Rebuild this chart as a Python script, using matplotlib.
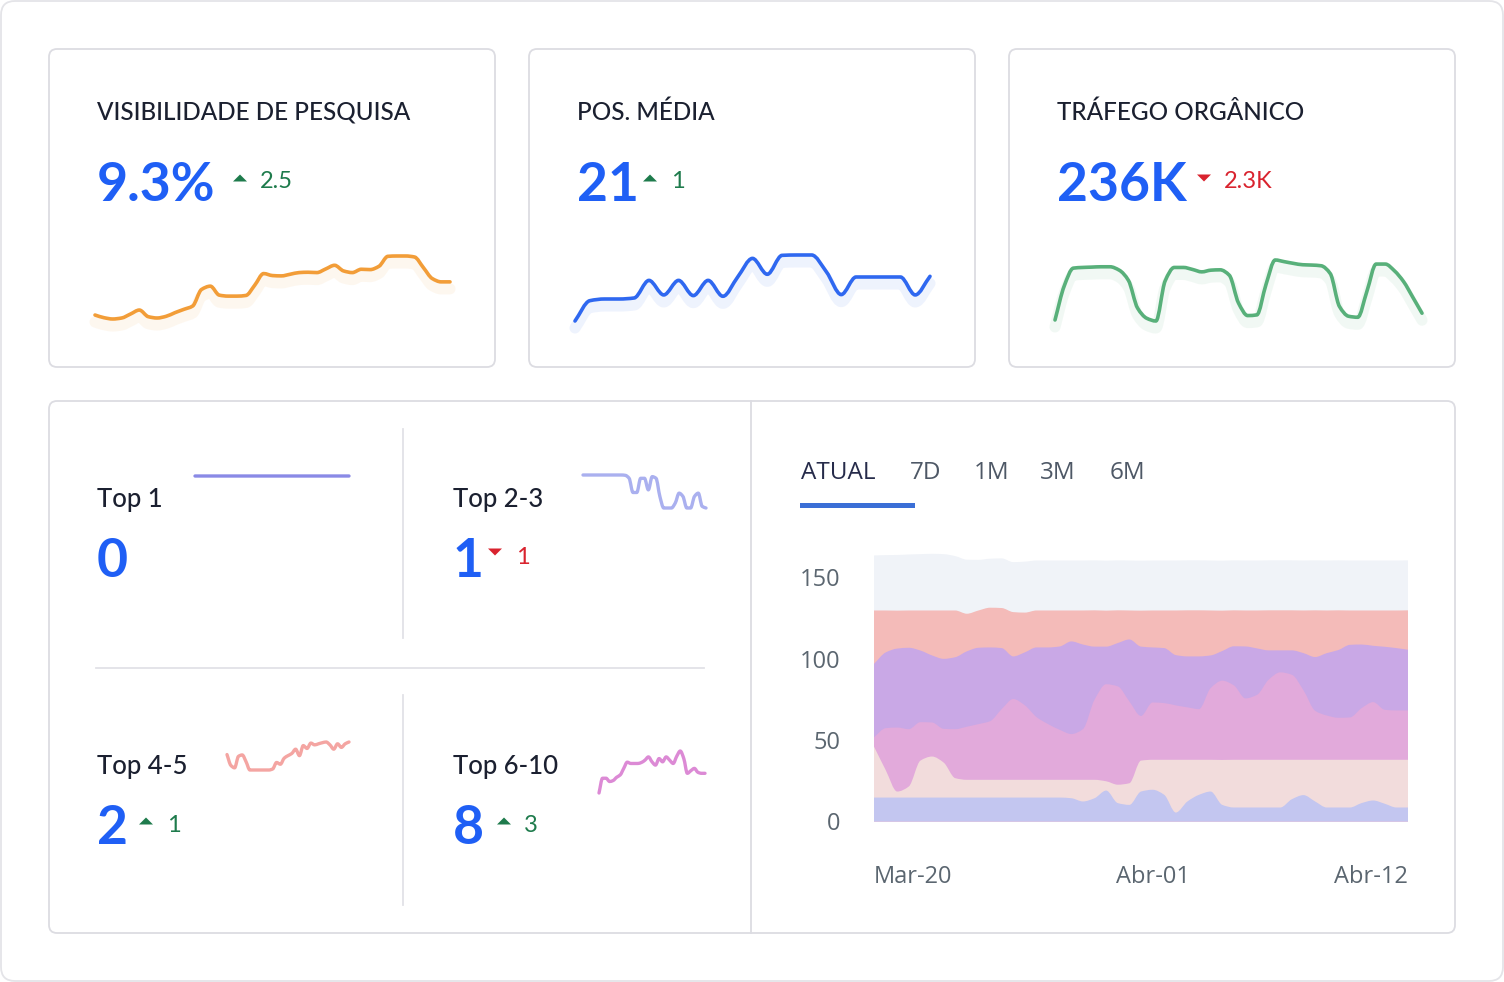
import numpy as np
import matplotlib.pyplot as plt
import matplotlib.transforms as mtransforms
from matplotlib.patches import FancyBboxPatch, Polygon, Rectangle, PathPatch
from matplotlib.path import Path

# ---- data ----
visibilidade = [2.5, 1.7, 1.3, 1.6, 2.8, 4.0, 2.0, 1.6, 2.1, 3.2, 4.2, 5.2, 10.2, 11.2, 8.5, 8.2, 8.2, 8.4, 11.5, 15.0,
                14.4, 14.3, 14.8, 15.3, 15.4, 15.3, 16.4, 17.5, 15.8, 15.3, 16.3, 16.2, 17.2, 20.2, 20.3, 20.3, 20.0,
                16.8, 13.5, 12.5, 12.5]
pos_media = [1.0, 7.0, 7.5, 7.5, 7.8, 13.0, 8.7, 13.0, 8.5, 13.0, 8.3, 14.0, 19.5, 14.8, 20.4, 20.5, 20.5, 15.5, 8.8,
             14.0, 14.0, 14.0, 14.0, 8.7, 14.2]
trafego = [1.5, 11.5, 16.8, 17.0, 17.1, 17.2, 17.2, 16.2, 13.2, 5.0, 2.0, 1.2, 13.0, 17.0, 17.0, 16.4, 15.7, 16.2, 16.3,
           14.7, 6.5, 2.8, 3.0, 12.0, 19.2, 18.7, 18.2, 17.8, 17.7, 17.5, 15.2, 5.5, 2.6, 2.3, 10.0, 18.0, 18.0, 16.0,
           12.8, 8.2, 3.5]

top1 = [0] * 30
top2_3 = [10.5] * 11 + [10.4, 9.5, 5.2, 5.2, 9.5, 9.5, 6.0, 10.0, 9.5, 4.0, 0.5, 0.5, 0.5, 2.0, 5.0, 4.0, 0.5, 0.5,
                         4.0, 5.0, 1.0, 0.5]
top4_5 = [5.5, 2.5, 1.8, 5.0, 5.4, 3.5, 1.2, 1.2, 1.2, 1.2, 1.2, 1.2, 1.5, 3.3, 2.8, 4.5, 5.2, 5.8, 7.0, 5.2, 8.0, 7.2,
          8.7, 8.2, 8.5, 8.8, 9.0, 8.2, 7.0, 8.5, 7.5, 8.5, 9.0]
top6_10 = [1.0, 5.5, 5.5, 4.5, 4.8, 5.8, 6.5, 8.5, 10.4, 10.0, 10.0, 10.0, 10.3, 11.0, 12.0, 10.5, 9.5, 11.5, 10.5, 12.0,
           11.0, 10.0, 12.2, 13.8, 11.5, 7.0, 7.8, 8.5, 7.3, 7.0, 7.0]

# stacked chart, one value every half day from Mar-20 to Abr-12
dias = np.arange(47) * 0.5
camada1 = [14.7] * 17 + [14.3, 12.3, 14.3, 19.0, 11.3, 10.2, 18.4, 19.5, 16.4, 5.5, 12.3, 16.4, 18.4, 10.2,
                         8.6, 8.6, 8.6, 8.6, 8.6, 13.7, 16.2, 12.3, 8.6, 8.6, 8.6, 11.3, 12.9, 10.9, 8.6, 8.6]
camada2 = [31.3, 17.0, 3.7, 6.8, 22.7, 25.2, 21.5, 11.9] + [10.9] * 9 + [11.3, 13.3, 11.3, 5.7, 11.3, 13.3, 19.0,
                                                                       18.4, 21.5, 32.4, 25.6, 21.5, 19.5, 27.6,
                                                                       29.3, 29.3, 29.3, 29.3, 29.3, 24.2, 21.7,
                                                                       25.6, 29.3, 29.3, 29.3, 26.6, 25.0, 27.0,
                                                                       29.3, 29.3]
camada3 = [5.7, 25.6, 39.3, 35.2, 23.6, 20.9, 20.7, 30.1, 32.6, 34.2, 36.0, 43.4, 49.6, 45.7, 38.5, 34.2, 30.7, 28.1,
           31.1, 49.2, 59.6, 60.4, 50.2, 27.4, 35.2, 34.8, 33.4, 32.2, 31.1, 44.0, 48.7, 45.7, 37.7, 39.9, 49.2, 53.7,
           52.2, 42.6, 30.1, 27.2, 25.8, 26.0, 31.7, 35.4, 30.7, 30.3, 30.3]
camada4 = [45.1, 46.5, 48.5, 50.0, 44.0, 41.2, 43.0, 44.2, 46.3, 46.9, 45.3, 37.5, 26.2, 32.6, 42.8, 47.1, 51.2, 56.9,
           52.0, 32.6, 23.1, 26.6, 38.1, 42.6, 33.8, 33.8, 30.9, 31.3, 32.4, 20.1, 18.2, 24.0, 31.9, 28.5, 18.0, 13.5,
           15.0, 22.9, 33.0, 38.3, 41.6, 44.6, 39.1, 34.6, 38.7, 38.3, 37.3]
camada5 = [32.8, 25.8, 23.3, 22.9, 24.6, 27.6, 29.7, 28.7, 23.1, 22.9, 24.4, 24.6, 27.2, 24.4, 22.7, 22.7, 22.1, 19.0,
           20.9, 22.3, 22.1, 20.1, 17.8, 22.1, 22.7, 23.1, 27.4, 28.3, 28.3, 27.6, 24.8, 22.1, 22.1, 23.3, 24.6, 24.6,
           24.6, 26.2, 28.7, 26.2, 24.4, 21.1, 20.9, 21.7, 22.3, 23.1, 24.2]
camada6 = [33.8, 34.0, 34.2, 34.4, 34.6, 34.8, 34.6, 33.4, 33.2, 31.1, 30.1, 30.5, 30.7, 31.3] + [30.7] * 33
cores_camadas = ["#c3c6f0", "#f2dcdc", "#e2aadb", "#c9a8e6", "#f4bbb9", "#f0f3f8"]

W, H = 1504, 982
DARK = "#1b2030"
BLUE = "#1f5ff5"
GREEN = "#1e7b4c"
RED = "#d9232e"
FONT = "Lato"

fig = plt.figure(figsize=(W / 100, H / 100), dpi=100)
bg = fig.add_axes([0, 0, 1, 1])
bg.set_xlim(0, W)
bg.set_ylim(H, 0)
bg.axis("off")


def curva(x, y):
    # smooth monotone curve through the points, as bezier segments
    x = np.asarray(x, float)
    y = np.asarray(y, float)
    h = np.diff(x)
    d = np.diff(y) / h
    m = np.zeros_like(y)
    m[0] = d[0]
    m[-1] = d[-1]
    for i in range(1, len(y) - 1):
        if d[i - 1] * d[i] > 0:
            m[i] = 2 / (1 / d[i - 1] + 1 / d[i])
    verts = [(x[0], y[0])]
    codes = [Path.MOVETO]
    for i in range(len(h)):
        verts += [(x[i] + h[i] / 3, y[i] + m[i] * h[i] / 3),
                  (x[i + 1] - h[i] / 3, y[i + 1] - m[i + 1] * h[i] / 3),
                  (x[i + 1], y[i + 1])]
        codes += [Path.CURVE4] * 3
    return verts, codes


def card(x0, y0, x1, y1, r=8, ec="#dcdce2"):
    bg.add_patch(FancyBboxPatch((x0, y0), x1 - x0, y1 - y0, boxstyle=f"round,pad=0,rounding_size={r}",
                                fc="white", ec=ec, lw=1.3))


def axes_px(x0, y0, x1, y1):
    ax = fig.add_axes([x0 / W, 1 - y1 / H, (x1 - x0) / W, (y1 - y0) / H])
    ax.axis("off")
    return ax


def spark(vals, box, color, lw, shadow=True):
    ax = axes_px(*box)
    x = np.arange(len(vals))
    ax.set_xlim(0, len(vals) - 1)
    if min(vals) == max(vals):
        ax.set_ylim(min(vals) - 1, max(vals) + 1)
    else:
        ax.set_ylim(min(vals), max(vals))
    verts, codes = curva(x, vals)
    if shadow:
        tr = mtransforms.offset_copy(ax.transData, fig=fig, x=0, y=-7, units="dots")
        ax.add_patch(PathPatch(Path(verts, codes), fill=False, ec=color, lw=8, alpha=0.08, transform=tr,
                               clip_on=False, capstyle="round", joinstyle="round"))
    ax.add_patch(PathPatch(Path(verts, codes), fill=False, ec=color, lw=lw, clip_on=False,
                           capstyle="round", joinstyle="round"))
    return ax


def tri(cx, cy, up, color):
    if up:
        pts = [(cx - 7, cy + 3.5), (cx + 7, cy + 3.5), (cx, cy - 3.5)]
    else:
        pts = [(cx - 7, cy - 3.5), (cx + 7, cy - 3.5), (cx, cy + 3.5)]
    bg.add_patch(Polygon(pts, closed=True, fc=color, ec="none"))


def txt(x, y, s, size, color, family=FONT, weight="normal"):
    bg.text(x, y, s, fontsize=size, color=color, family=family, weight=weight, ha="left", va="baseline")


# outer frame and cards
card(1, 1, 1503, 981, r=14, ec="#e4e4e8")
card(49, 49, 495, 367)
card(529, 49, 975, 367)
card(1009, 49, 1455, 367)
card(49, 401, 1455, 933)
bg.plot([751, 751], [401, 933], color="#dcdce2", lw=1.3)
bg.plot([403, 403], [429, 638], color="#e2e2e7", lw=1.3)
bg.plot([403, 403], [695, 905], color="#e2e2e7", lw=1.3)
bg.plot([96, 704], [668, 668], color="#e2e2e7", lw=1.3)

# top cards
titulos = ["VISIBILIDADE DE PESQUISA", "POS. MÉDIA", "TRÁFEGO ORGÂNICO"]
valores = ["9.3%", "21", "236K"]
deltas = ["2.5", "1", "2.3K"]
subiu = [True, True, False]
xs = [97, 577, 1057]
delta_x = [260, 671, 1224]
tri_x = [240, 650, 1204]
for i in range(3):
    txt(xs[i], 119.5, titulos[i], 17.5, DARK, weight="medium")
    txt(xs[i], 201, valores[i], 38.5, BLUE, weight="bold")
    cor = GREEN if subiu[i] else RED
    tri(tri_x[i], 178, subiu[i], cor)
    txt(delta_x[i], 188, deltas[i], 17, cor)

spark(visibilidade, (95, 256, 450, 319), "#f29d38", 2.6)
spark(pos_media, (575, 255, 930, 321), "#2f68f0", 2.6)
spark(trafego, (1055, 260, 1422, 321), "#58b07a", 2.6)

# bottom-left summary
txt(97, 507, "Top 1", 18.5, DARK, weight="medium")
txt(97, 577, "0", 38.5, BLUE, weight="bold")
txt(453, 507, "Top 2-3", 18.5, DARK, weight="medium")
txt(453, 577, "1", 38.5, BLUE, weight="bold")
tri(495, 552, False, RED)
txt(516, 564, "1", 17, RED)
txt(97, 774, "Top 4-5", 18.5, DARK, weight="medium")
txt(97, 844, "2", 38.5, BLUE, weight="bold")
tri(146, 821, True, GREEN)
txt(167, 832, "1", 17, GREEN)
txt(453, 774, "Top 6-10", 18.5, DARK, weight="medium")
txt(453, 844, "8", 38.5, BLUE, weight="bold")
tri(504, 821, True, GREEN)
txt(524, 832, "3", 17, GREEN)

spark(top1, (195, 470, 349, 482), "#8a8ae6", 2.4, shadow=False)
spark(top2_3, (583, 475, 706, 508), "#aab0ef", 2.4, shadow=False)
spark(top4_5, (227, 742, 349, 770), "#f4a5a2", 2.4, shadow=False)
spark(top6_10, (599, 751, 705, 793), "#dc8ad5", 2.4, shadow=False)

# tabs
abas = ["ATUAL", "7D", "1M", "3M", "6M"]
abas_x = [801, 910, 974, 1040, 1110]
for i in range(len(abas)):
    txt(abas_x[i], 479, abas[i], 17.5, "#262b4a" if i == 0 else "#4e5866", family="Open Sans")
bg.add_patch(Rectangle((800, 503), 115, 5, fc="#3b6fd6", ec="none"))

# stacked area chart
ax = fig.add_axes([874 / W, 1 - 821.5 / H, 534 / W, (821.5 - 544.7) / H])
topos = np.cumsum([camada1, camada2, camada3, camada4, camada5, camada6], axis=0)
for k in range(len(topos) - 1, -1, -1):
    verts, codes = curva(dias, topos[k])
    verts = verts + [(dias[-1], 0), (dias[0], 0), (dias[0], 0)]
    codes = codes + [Path.LINETO, Path.LINETO, Path.CLOSEPOLY]
    ax.add_patch(PathPatch(Path(verts, codes), fc=cores_camadas[k], ec="none", lw=0))
ax.set_xlim(0, 23)
ax.set_ylim(0, 170)
for s in ax.spines.values():
    s.set_visible(False)
ax.set_yticks([0, 50, 100, 150])
ax.set_xticks([0, 12, 23])
ax.set_xticklabels(["Mar-20", "Abr-01", "Abr-12"])
ax.tick_params(length=0, labelsize=17, labelcolor="#5b6670")
ax.tick_params(axis="y", pad=24)
ax.tick_params(axis="x", pad=31)
for lab in ax.get_xticklabels() + ax.get_yticklabels():
    lab.set_family("Open Sans")
ax.get_xticklabels()[0].set_ha("left")
ax.get_xticklabels()[2].set_ha("right")

fig.savefig("out.png", dpi=100)
